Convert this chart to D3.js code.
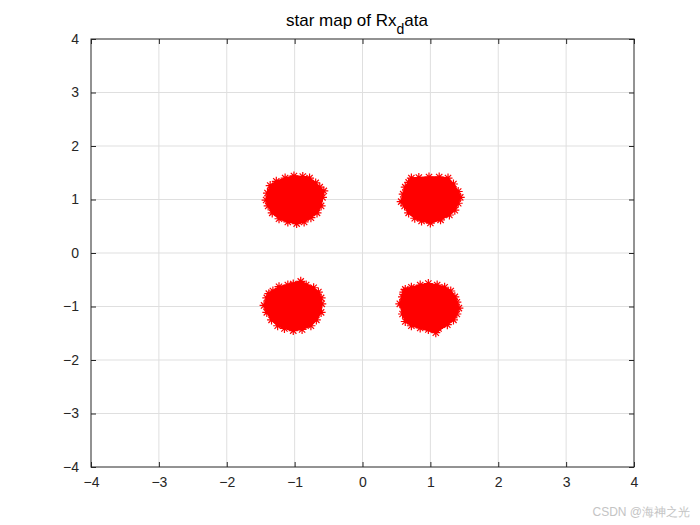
<!DOCTYPE html>
<html>
<head>
<meta charset="utf-8">
<script src="https://cdn.jsdelivr.net/npm/d3@7"></script>
<style>
  body { margin: 0; background: #fff; }
  svg text { font-family: "Liberation Sans", Arial, Helvetica, sans-serif; }
</style>
</head>
<body>
<script>
// received symbols, outer edge of each cloud
var clusterTL = [[-1.14,1.40],[-1.01,1.44],[-0.88,1.43],[-0.78,1.40],[-0.69,1.31],[-0.63,1.23],[-0.57,1.16],
  [-0.59,1.04],[-0.61,0.88],[-0.67,0.75],[-0.76,0.66],[-0.86,0.58],[-0.97,0.55],[-1.10,0.58],[-1.23,0.64],
  [-1.33,0.75],[-1.39,0.88],[-1.42,0.99],[-1.40,1.12],[-1.36,1.26],[-1.27,1.34]]
var clusterTR = [[0.72,1.40],[0.83,1.41],[0.98,1.42],[1.13,1.42],[1.26,1.40],[1.34,1.29],[1.41,1.15],
  [1.44,1.04],[1.41,0.93],[1.36,0.80],[1.28,0.71],[1.15,0.62],[1.00,0.56],[0.87,0.60],[0.77,0.65],
  [0.68,0.75],[0.62,0.88],[0.57,0.96],[0.60,1.10],[0.63,1.23],[0.68,1.32]]
var clusterBL = [[-1.32,-0.71],[-1.23,-0.63],[-1.10,-0.60],[-1.02,-0.58],[-0.91,-0.53],[-0.83,-0.60],[-0.72,-0.65],
  [-0.65,-0.73],[-0.61,-0.84],[-0.60,-0.95],[-0.61,-1.11],[-0.68,-1.25],[-0.76,-1.36],[-0.89,-1.43],[-1.02,-1.45],
  [-1.15,-1.41],[-1.25,-1.36],[-1.34,-1.25],[-1.41,-1.11],[-1.45,-0.98],[-1.41,-0.84],[-1.38,-0.76]]
var clusterBR = [[0.63,-0.68],[0.72,-0.64],[0.85,-0.60],[0.97,-0.57],[1.10,-0.60],[1.21,-0.64],[1.30,-0.71],
  [1.36,-0.82],[1.39,-0.92],[1.42,-1.03],[1.39,-1.14],[1.34,-1.25],[1.25,-1.34],[1.12,-1.41],[1.08,-1.49],
  [0.97,-1.43],[0.85,-1.40],[0.72,-1.36],[0.63,-1.28],[0.59,-1.14],[0.55,-0.95],[0.59,-0.82],[0.61,-0.73]]

var xTicks = [-4,-3,-2,-1,0,1,2,3,4]
var yTicks = [-4,-3,-2,-1,0,1,2,3,4]

var width = 700, height = 525
var margin = {left: 91, right: 66, top: 39, bottom: 58}

var svg = d3.select('body').append('svg')
    .attr('width', width).attr('height', height)

var x = d3.scaleLinear().domain([-4, 4]).range([margin.left, width - margin.right])
var y = d3.scaleLinear().domain([-4, 4]).range([height - margin.bottom, margin.top])

// grid
svg.append('g').selectAll('line').data(xTicks.slice(1, -1)).enter().append('line')
    .attr('x1', function(d) { return x(d) }).attr('x2', function(d) { return x(d) })
    .attr('y1', y(-4)).attr('y2', y(4))
    .attr('stroke', '#dfdfdf').attr('stroke-width', 1)
svg.append('g').selectAll('line').data(yTicks.slice(1, -1)).enter().append('line')
    .attr('y1', function(d) { return y(d) }).attr('y2', function(d) { return y(d) })
    .attr('x1', x(-4)).attr('x2', x(4))
    .attr('stroke', '#dfdfdf').attr('stroke-width', 1)

// clouds: filled hull + star markers sticking out of it
var clusters = [clusterTL, clusterTR, clusterBL, clusterBR]
var cloud = svg.append('g')
clusters.forEach(function(c) {
  var pts = c.map(function(p) { return [x(p[0]), y(p[1])] })
  cloud.append('path')
      .attr('d', 'M' + d3.polygonHull(pts).join('L') + 'Z')
      .attr('fill', '#ff0000').attr('stroke', '#ff0000').attr('stroke-width', 1.5)
      .attr('stroke-linejoin', 'round')
  var r = 4.5, s = r * 0.7
  cloud.selectAll(null).data(c).enter().append('path')
      .attr('transform', function(d) { return 'translate(' + x(d[0]) + ',' + y(d[1]) + ')' })
      .attr('d', 'M' + (-r) + ',0L' + r + ',0M0,' + (-r) + 'L0,' + r +
                 'M' + (-s) + ',' + (-s) + 'L' + s + ',' + s + 'M' + (-s) + ',' + s + 'L' + s + ',' + (-s))
      .attr('stroke', '#ff0000').attr('stroke-width', 1.2).attr('fill', 'none')
})

// axes, ticks inward on all sides
var axisColor = '#262626'
var tl = 5
function styleAxis(g) {
  g.select('.domain').remove()
  g.selectAll('.tick line').attr('stroke', axisColor)
  g.selectAll('.tick text').attr('fill', axisColor).style('font-size', '14px')
}
svg.append('g').attr('transform', 'translate(0,' + y(-4) + ')')
    .call(d3.axisBottom(x).tickValues(xTicks).tickSize(-tl).tickPadding(10).tickFormat(d3.format('d')))
    .call(styleAxis)
svg.append('g').attr('transform', 'translate(0,' + y(4) + ')')
    .call(d3.axisTop(x).tickValues(xTicks).tickSize(-tl).tickFormat(''))
    .call(styleAxis)
svg.append('g').attr('transform', 'translate(' + x(-4) + ',0)')
    .call(d3.axisLeft(y).tickValues(yTicks).tickSize(-tl).tickPadding(12).tickFormat(d3.format('d')))
    .call(styleAxis)
svg.append('g').attr('transform', 'translate(' + x(4) + ',0)')
    .call(d3.axisRight(y).tickValues(yTicks).tickSize(-tl).tickFormat(''))
    .call(styleAxis)
svg.selectAll('text').attr('font-family', null)

svg.append('rect')
    .attr('x', x(-4)).attr('y', y(4))
    .attr('width', x(4) - x(-4)).attr('height', y(-4) - y(4))
    .attr('fill', 'none').attr('stroke', axisColor).attr('stroke-width', 1)

// title with subscript d
var title = svg.append('text')
    .attr('x', 357).attr('y', 26)
    .attr('text-anchor', 'middle').attr('fill', '#000')
    .style('font-size', '17px')
title.append('tspan').text('star map of Rx')
title.append('tspan').attr('dy', 8).style('font-size', '14px').text('d')
title.append('tspan').attr('dy', -8).text('ata')

// watermark
svg.append('text')
    .attr('x', 690).attr('y', 516).attr('text-anchor', 'end')
    .attr('fill', '#c4c4c4').style('font-size', '12px')
    .text('CSDN @海神之光')
</script>
</body>
</html>
